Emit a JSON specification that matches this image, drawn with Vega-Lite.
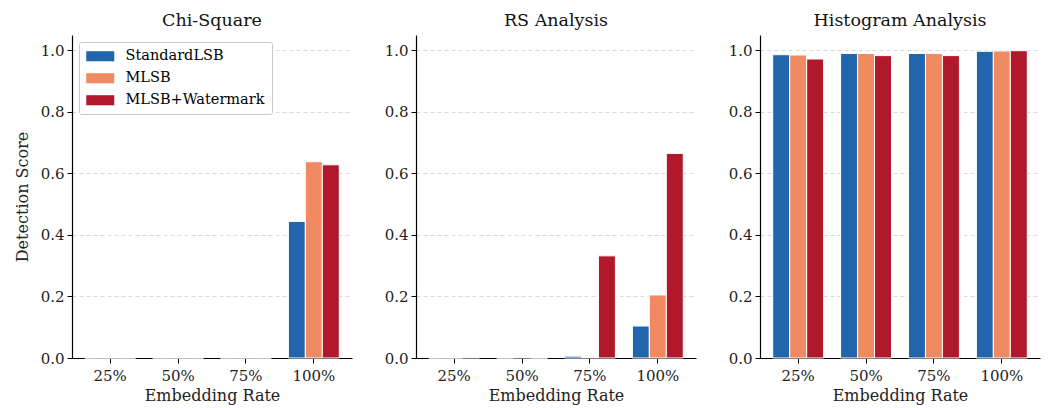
{
  "$schema": "https://vega.github.io/schema/vega-lite/v6.json",
  "padding": {"left": 14, "top": 11, "right": 4, "bottom": 8},
  "background": "white",
  "config": {
    "font": "DejaVu Serif",
    "view": {"stroke": null},
    "axis": {"labelFont": "DejaVu Serif", "titleFont": "DejaVu Serif", "labelFontSize": 15, "titleFontSize": 16, "titleFontWeight": "normal", "labelColor": "#222", "titleColor": "#222", "domainColor": "#000", "tickColor": "#000", "tickSize": 5, "domainWidth": 1.2, "labelPadding": 3},
    "title": {"font": "DejaVu Serif", "fontSize": 17.5, "fontWeight": "normal", "color": "#111", "offset": 6},
    "legend": {"labelFont": "DejaVu Serif", "labelFontSize": 14.5}
  },
  "data": {"values": [
    {"test": "Chi-Square", "rate": "25%", "method": "StandardLSB", "score": 0},
    {"test": "Chi-Square", "rate": "25%", "method": "MLSB", "score": 0},
    {"test": "Chi-Square", "rate": "25%", "method": "MLSB+Watermark", "score": 0},
    {"test": "Chi-Square", "rate": "50%", "method": "StandardLSB", "score": 0},
    {"test": "Chi-Square", "rate": "50%", "method": "MLSB", "score": 0},
    {"test": "Chi-Square", "rate": "50%", "method": "MLSB+Watermark", "score": 0},
    {"test": "Chi-Square", "rate": "75%", "method": "StandardLSB", "score": 0},
    {"test": "Chi-Square", "rate": "75%", "method": "MLSB", "score": 0},
    {"test": "Chi-Square", "rate": "75%", "method": "MLSB+Watermark", "score": 0},
    {"test": "Chi-Square", "rate": "100%", "method": "StandardLSB", "score": 0.444},
    {"test": "Chi-Square", "rate": "100%", "method": "MLSB", "score": 0.638},
    {"test": "Chi-Square", "rate": "100%", "method": "MLSB+Watermark", "score": 0.628},
    {"test": "RS Analysis", "rate": "25%", "method": "StandardLSB", "score": 0},
    {"test": "RS Analysis", "rate": "25%", "method": "MLSB", "score": 0},
    {"test": "RS Analysis", "rate": "25%", "method": "MLSB+Watermark", "score": 0.002},
    {"test": "RS Analysis", "rate": "50%", "method": "StandardLSB", "score": 0},
    {"test": "RS Analysis", "rate": "50%", "method": "MLSB", "score": 0.002},
    {"test": "RS Analysis", "rate": "50%", "method": "MLSB+Watermark", "score": 0},
    {"test": "RS Analysis", "rate": "75%", "method": "StandardLSB", "score": 0.006},
    {"test": "RS Analysis", "rate": "75%", "method": "MLSB", "score": 0.002},
    {"test": "RS Analysis", "rate": "75%", "method": "MLSB+Watermark", "score": 0.332},
    {"test": "RS Analysis", "rate": "100%", "method": "StandardLSB", "score": 0.104},
    {"test": "RS Analysis", "rate": "100%", "method": "MLSB", "score": 0.205},
    {"test": "RS Analysis", "rate": "100%", "method": "MLSB+Watermark", "score": 0.665},
    {"test": "Histogram Analysis", "rate": "25%", "method": "StandardLSB", "score": 0.986},
    {"test": "Histogram Analysis", "rate": "25%", "method": "MLSB", "score": 0.985},
    {"test": "Histogram Analysis", "rate": "25%", "method": "MLSB+Watermark", "score": 0.972},
    {"test": "Histogram Analysis", "rate": "50%", "method": "StandardLSB", "score": 0.99},
    {"test": "Histogram Analysis", "rate": "50%", "method": "MLSB", "score": 0.99},
    {"test": "Histogram Analysis", "rate": "50%", "method": "MLSB+Watermark", "score": 0.983},
    {"test": "Histogram Analysis", "rate": "75%", "method": "StandardLSB", "score": 0.99},
    {"test": "Histogram Analysis", "rate": "75%", "method": "MLSB", "score": 0.99},
    {"test": "Histogram Analysis", "rate": "75%", "method": "MLSB+Watermark", "score": 0.983},
    {"test": "Histogram Analysis", "rate": "100%", "method": "StandardLSB", "score": 0.997},
    {"test": "Histogram Analysis", "rate": "100%", "method": "MLSB", "score": 0.998},
    {"test": "Histogram Analysis", "rate": "100%", "method": "MLSB+Watermark", "score": 0.999}
  ]},
  "spacing": 32,
  "resolve": {"scale": {"color": "independent"}},
  "hconcat": [
    {
      "title": "Chi-Square",
      "width": 280, "height": 323,
      "transform": [{"filter": "datum.test === 'Chi-Square'"}],
      "mark": {"type": "bar", "stroke": "white", "strokeWidth": 1},
      "encoding": {
        "x": {"field": "rate", "type": "nominal", "sort": ["25%", "50%", "75%", "100%"], "scale": {"paddingInner": 0.25, "paddingOuter": 0.1875}, "axis": {"title": "Embedding Rate", "labelAngle": 0, "labelPadding": 5, "titlePadding": 4}},
        "xOffset": {"field": "method", "type": "nominal", "sort": ["StandardLSB", "MLSB", "MLSB+Watermark"], "scale": {"paddingInner": 0, "paddingOuter": 0}},
        "y": {"field": "score", "type": "quantitative", "scale": {"domain": [0, 1.05], "nice": false}, "axis": {"title": "Detection Score", "values": [0, 0.2, 0.4, 0.6, 0.8, 1.0], "format": ".1f", "gridDash": [4, 3], "gridColor": "#d0d0d0", "gridWidth": 0.8, "titlePadding": 10}},
        "color": {"field": "method", "type": "nominal", "sort": ["StandardLSB", "MLSB", "MLSB+Watermark"], "scale": {"domain": ["StandardLSB", "MLSB", "MLSB+Watermark"], "range": ["#2166ac", "#ef8a62", "#b2182b"]},
          "legend": {"title": null, "orient": "none", "legendX": 7, "legendY": 7, "symbolType": "M-1,-0.72H3V0.72H-1Z", "symbolSize": 196, "symbolStrokeWidth": 0, "rowPadding": 7, "labelOffset": 25, "padding": 7, "strokeColor": "#c8c8c8", "fillColor": "white", "cornerRadius": 2}}
      }
    },
    {
      "title": "RS Analysis",
      "width": 280, "height": 323,
      "transform": [{"filter": "datum.test === 'RS Analysis'"}],
      "mark": {"type": "bar", "stroke": "white", "strokeWidth": 1},
      "encoding": {
        "x": {"field": "rate", "type": "nominal", "sort": ["25%", "50%", "75%", "100%"], "scale": {"paddingInner": 0.25, "paddingOuter": 0.1875}, "axis": {"title": "Embedding Rate", "labelAngle": 0, "labelPadding": 5, "titlePadding": 4}},
        "xOffset": {"field": "method", "type": "nominal", "sort": ["StandardLSB", "MLSB", "MLSB+Watermark"], "scale": {"paddingInner": 0, "paddingOuter": 0}},
        "y": {"field": "score", "type": "quantitative", "scale": {"domain": [0, 1.05], "nice": false}, "axis": {"title": null, "values": [0, 0.2, 0.4, 0.6, 0.8, 1.0], "format": ".1f", "gridDash": [4, 3], "gridColor": "#d0d0d0", "gridWidth": 0.8}},
        "color": {"field": "method", "type": "nominal", "scale": {"domain": ["StandardLSB", "MLSB", "MLSB+Watermark"], "range": ["#2166ac", "#ef8a62", "#b2182b"]}, "legend": null}
      }
    },
    {
      "title": "Histogram Analysis",
      "width": 280, "height": 323,
      "transform": [{"filter": "datum.test === 'Histogram Analysis'"}],
      "mark": {"type": "bar", "stroke": "white", "strokeWidth": 1},
      "encoding": {
        "x": {"field": "rate", "type": "nominal", "sort": ["25%", "50%", "75%", "100%"], "scale": {"paddingInner": 0.25, "paddingOuter": 0.1875}, "axis": {"title": "Embedding Rate", "labelAngle": 0, "labelPadding": 5, "titlePadding": 4}},
        "xOffset": {"field": "method", "type": "nominal", "sort": ["StandardLSB", "MLSB", "MLSB+Watermark"], "scale": {"paddingInner": 0, "paddingOuter": 0}},
        "y": {"field": "score", "type": "quantitative", "scale": {"domain": [0, 1.05], "nice": false}, "axis": {"title": null, "values": [0, 0.2, 0.4, 0.6, 0.8, 1.0], "format": ".1f", "gridDash": [4, 3], "gridColor": "#d0d0d0", "gridWidth": 0.8}},
        "color": {"field": "method", "type": "nominal", "scale": {"domain": ["StandardLSB", "MLSB", "MLSB+Watermark"], "range": ["#2166ac", "#ef8a62", "#b2182b"]}, "legend": null}
      }
    }
  ]
}
